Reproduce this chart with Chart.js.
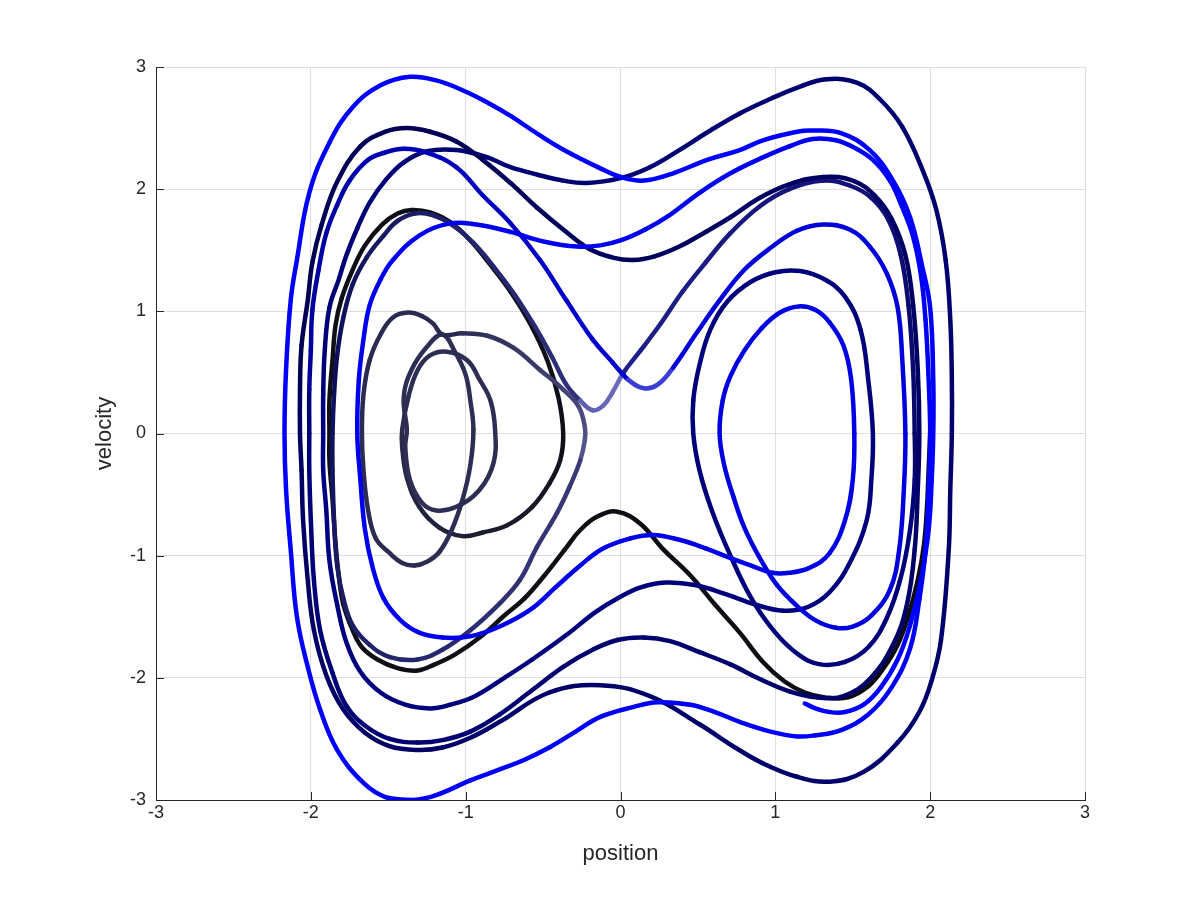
<!DOCTYPE html>
<html><head><meta charset="utf-8">
<script src="https://cdn.jsdelivr.net/npm/chart.js@4.4.1/dist/chart.umd.min.js"></script>
<style>html,body{margin:0;padding:0;background:#fff}#c{display:block}</style>
</head><body>
<canvas id="c" width="1200" height="900"></canvas>
<script>
// ---- tick values ----
const tickValues = [-3, -2, -1, 0, 1, 2, 3];

// ---- trajectory pieces (position, velocity), in time order ----
const swingStartPos = [2.00,1.99,1.98,1.96,1.92,1.86,1.79,1.70,1.60,1.47,1.32,1.19,1.06,0.92,0.77,0.61,0.45,0.27,0.13,-0.02,-0.15,-0.26,-0.36,-0.49,-0.62,-0.75,-0.91,-1.07,-1.20,-1.31,-1.44,-1.57,-1.67,-1.73,-1.79,-1.82,-1.84,-1.86,-1.88,-1.88,-1.88,-1.86,-1.84,-1.80,-1.73,-1.65,-1.54,-1.44,-1.35,-1.23,-1.10,-0.97,-0.84,-0.71,-0.58,-0.47,-0.40,-0.37];
const swingStartVel = [0.00,-0.30,-0.59,-0.91,-1.20,-1.49,-1.73,-1.92,-2.07,-2.16,-2.16,-2.12,-2.03,-1.87,-1.63,-1.40,-1.16,-0.94,-0.74,-0.64,-0.68,-0.79,-0.95,-1.16,-1.35,-1.49,-1.67,-1.81,-1.89,-1.94,-1.92,-1.85,-1.75,-1.61,-1.40,-1.16,-0.91,-0.54,-0.22,0.00,0.27,0.60,0.89,1.11,1.34,1.54,1.71,1.80,1.83,1.81,1.73,1.58,1.38,1.16,0.89,0.59,0.29,0.00];

const capturePos = [-0.39,-0.46,-0.57,-0.73,-0.89,-1.02,-1.17,-1.30,-1.38,-1.41,-1.41];
const captureVel = [-0.22,-0.41,-0.60,-0.75,-0.81,-0.84,-0.77,-0.60,-0.36,-0.11,0.03];

const smallLoopPos = [-1.37,-1.31,-1.23,-1.12,-0.99,-0.91,-0.84,-0.81,-0.82,-0.91,-1.06,-1.19,-1.28,-1.36,-1.39,-1.38,-1.40,-1.35,-1.25,-1.15];
const smallLoopVel = [0.30,0.52,0.64,0.67,0.60,0.44,0.27,0.03,-0.24,-0.46,-0.60,-0.63,-0.57,-0.38,-0.11,0.03,0.30,0.52,0.71,0.81];

const wideLoopPos = [-1.07,-1.00,-0.97,-0.95,-0.97,-1.02,-1.09,-1.17,-1.25,-1.33,-1.41,-1.49,-1.58,-1.63,-1.66,-1.67,-1.66,-1.62,-1.55,-1.47,-1.37,-1.28,-1.21,-1.15];
const wideLoopVel = [0.67,0.48,0.27,0.03,-0.26,-0.54,-0.79,-0.97,-1.05,-1.08,-1.06,-0.98,-0.86,-0.63,-0.30,0.00,0.32,0.60,0.81,0.95,0.99,0.96,0.90,0.81];

const shallowLoopPos = [-1.02,-0.86,-0.69,-0.52,-0.37,-0.27,-0.23,-0.23];
const shallowLoopVel = [0.82,0.80,0.70,0.52,0.36,0.22,0.05,-0.05];

const escapePos = [-0.26,-0.33,-0.41,-0.54,-0.65,-0.78,-0.97,-1.15,-1.31,-1.49,-1.62,-1.73,-1.79,-1.83,-1.85,-1.86,-1.86];
const escapeVel = [-0.22,-0.44,-0.65,-0.93,-1.20,-1.39,-1.61,-1.77,-1.85,-1.83,-1.73,-1.57,-1.35,-1.08,-0.71,-0.30,0.00];

const crossRisePos = [-1.85,-1.83,-1.79,-1.73,-1.64,-1.53,-1.44,-1.33,-1.22,-1.09,-0.95,-0.81,-0.68,-0.55,-0.44,-0.35];
const crossRiseVel = [0.32,0.64,0.95,1.22,1.44,1.62,1.74,1.80,1.79,1.71,1.56,1.35,1.13,0.87,0.62,0.40];

const crossDipPos = [-0.26,-0.18,-0.11,-0.05];
const crossDipVel = [0.27,0.19,0.23,0.34];

const crossExitPos = [0.02,0.13,0.26,0.40,0.55,0.71,0.90,1.09,1.31,1.48,1.62,1.73,1.81,1.86,1.89,1.90];
const crossExitVel = [0.50,0.68,0.90,1.16,1.40,1.64,1.86,2.00,2.07,2.03,1.93,1.75,1.46,1.05,0.52,0.00];

const rightWellPos = [1.90,1.87,1.81,1.72,1.60,1.45,1.29,1.15,1.00,0.85,0.71,0.59,0.51,0.47,0.47,0.51,0.58,0.69,0.84,1.00,1.16,1.32,1.45,1.55,1.60,1.63,
  1.62,1.59,1.48,1.35,1.21,1.05,0.87,0.67,0.48,0.29,0.13,-0.02,-0.16,-0.35,-0.57,-0.75,-0.94,-1.10,-1.23,-1.39,-1.55,-1.68,-1.77,-1.83,-1.88,-1.90,-1.92,-1.92];
const rightWellVel = [-0.38,-0.79,-1.18,-1.51,-1.75,-1.87,-1.89,-1.81,-1.63,-1.36,-1.00,-0.63,-0.30,0.00,0.27,0.56,0.85,1.08,1.24,1.32,1.33,1.26,1.12,0.85,0.44,0.00,
  -0.38,-0.71,-1.06,-1.30,-1.42,-1.45,-1.40,-1.31,-1.24,-1.22,-1.26,-1.35,-1.46,-1.65,-1.85,-2.00,-2.15,-2.22,-2.25,-2.22,-2.12,-1.95,-1.71,-1.40,-1.04,-0.63,-0.30,0.00];

const outerNavyPos = [-1.92,-1.91,-1.88,-1.82,-1.77,-1.70,-1.62,-1.52,-1.40,-1.25,-1.06,-0.86,-0.71,-0.54,-0.37,-0.22,0.00,0.19,0.38,0.58,0.77,0.97,1.16,1.33,1.53,1.68,1.82,1.95,2.04,2.10,2.13,2.14,2.14,
  2.13,2.12,2.07,2.01,1.93,1.79,1.57,1.35,1.14,0.92,0.74,0.51,0.19,-0.13,-0.46,-0.78,
  -0.97,-1.15,-1.31,-1.49,-1.65,-1.79,-1.90,-1.98,-2.02,-2.05,-2.06,-2.07];
const outerNavyVel = [0.32,0.68,1.03,1.26,1.46,1.68,1.89,2.07,2.22,2.31,2.32,2.26,2.18,2.12,2.07,2.05,2.09,2.18,2.32,2.48,2.62,2.74,2.84,2.90,2.87,2.73,2.51,2.16,1.83,1.42,0.93,0.44,0.00,
  -0.46,-0.95,-1.69,-2.02,-2.28,-2.53,-2.77,-2.85,-2.81,-2.70,-2.57,-2.38,-2.15,-2.06,-2.12,-2.36,
  -2.49,-2.57,-2.59,-2.56,-2.45,-2.26,-1.98,-1.61,-1.20,-0.71,-0.30,0.00];

const upperNavyPos = [-2.07,-2.06,-2.02,-1.99,-1.93,-1.83,-1.68,-1.52,-1.38,-1.23,-1.06,-0.89,-0.71,-0.54,-0.37,-0.20,-0.05,0.08,0.22,0.38,0.55,0.71,0.90,1.09,1.31,1.50,1.64,1.75,1.84,1.89,1.92,1.93,
  1.92,1.90,1.85,1.76,1.61,1.44,1.27,1.09,0.90,0.71,0.51,0.32,0.15,-0.02,-0.18,-0.37,-0.57,-0.78,-0.97,-1.15,-1.31,-1.49,-1.64,-1.77,-1.86,-1.94,-1.98,-2.00,-2.01,-2.01];
const upperNavyVel = [0.36,0.72,1.09,1.40,1.71,2.06,2.35,2.47,2.50,2.47,2.39,2.24,2.05,1.85,1.67,1.51,1.44,1.42,1.45,1.53,1.65,1.77,1.93,2.04,2.10,2.07,1.95,1.76,1.46,1.05,0.52,0.00,
  -0.46,-0.95,-1.40,-1.73,-2.01,-2.15,-2.16,-2.11,-2.01,-1.89,-1.79,-1.70,-1.67,-1.69,-1.77,-1.91,-2.10,-2.30,-2.44,-2.51,-2.53,-2.50,-2.40,-2.23,-1.96,-1.61,-1.20,-0.71,-0.30,0.00];

const blueRisePos = [-2.01,-2.00,-1.99,-1.95,-1.90,-1.83,-1.75,-1.63,-1.52,-1.40,-1.25,-1.06,-0.89,-0.71,-0.52,-0.35,-0.18,-0.05];
const blueRiseVel = [0.36,0.68,1.01,1.34,1.64,1.87,2.07,2.24,2.30,2.33,2.30,2.18,1.95,1.72,1.42,1.09,0.77,0.58];

const blueDipPos = [0.05,0.15,0.24];
const blueDipVel = [0.44,0.37,0.40];

const blueWellPos = [0.34,0.49,0.64,0.80,0.97,1.14,1.31,1.48,1.61,1.72,1.79,1.82,1.84,
  1.83,1.80,1.74,1.62,1.50,1.39,1.26,1.13,1.01,0.90,0.80,0.73,0.67,0.64,
  0.66,0.71,0.80,0.91,1.03,1.15,1.26,1.35,1.44,1.49,1.51,1.50,1.45,1.35,1.22,1.09,0.98,0.84,0.69,0.55,0.38,0.21,0.06,-0.11,-0.26,-0.42,-0.58,-0.78,-0.97,-1.15,-1.30,-1.42,-1.53,-1.60,-1.65,-1.68,-1.70];
const blueWellVel = [0.54,0.82,1.09,1.34,1.52,1.66,1.71,1.67,1.53,1.31,1.03,0.60,0.00,
  -0.46,-0.95,-1.28,-1.49,-1.58,-1.59,-1.53,-1.40,-1.24,-1.02,-0.77,-0.52,-0.26,0.00,
  0.27,0.47,0.68,0.86,0.99,1.04,1.01,0.91,0.72,0.44,0.00,-0.38,-0.71,-0.98,-1.10,-1.14,-1.14,-1.08,-1.01,-0.94,-0.87,-0.83,-0.86,-0.94,-1.08,-1.26,-1.44,-1.58,-1.66,-1.67,-1.63,-1.53,-1.35,-1.10,-0.79,-0.38,0.00];

const lastSwingPos = [-1.69,-1.66,-1.62,-1.55,-1.47,-1.30,-1.10,-0.93,-0.71,-0.49,-0.28,-0.13,0.00,0.16,0.32,0.51,0.71,0.92,1.09,1.24,1.39,1.51,1.63,1.74,1.82,1.89,1.94,1.97,1.99,2.00,
  1.99,1.97,1.93,1.87,1.75,1.60,1.42,1.26,1.14,0.97,0.77,0.61,0.45,0.24,0.08,-0.13,-0.29,-0.46,-0.62,-0.78];
const lastSwingVel = [0.44,0.77,1.05,1.26,1.42,1.62,1.72,1.71,1.65,1.57,1.53,1.54,1.58,1.67,1.79,1.97,2.13,2.26,2.35,2.41,2.40,2.34,2.24,2.07,1.85,1.61,1.30,0.93,0.44,0.00,
  -0.46,-0.95,-1.36,-1.76,-2.08,-2.30,-2.43,-2.47,-2.48,-2.44,-2.36,-2.28,-2.22,-2.20,-2.24,-2.32,-2.44,-2.57,-2.67,-2.75];

const outerBluePos = [-0.97,-1.19,-1.34,-1.51,-1.66,-1.83,-1.94,-2.02,-2.09,-2.13,-2.16,-2.17,
  -2.16,-2.13,-2.09,-2.01,-1.88,-1.73,-1.55,-1.36,-1.19,-1.02,-0.86,-0.71,-0.52,-0.35,-0.13,0.00,0.15,0.34,0.56,0.77,0.92,1.14,1.24,1.42,1.61,1.76,1.87,1.95,2.00,2.02,2.02,
  2.01,1.99,1.94,1.87,1.79,1.68,1.57,1.45,1.35,1.26,1.19];
const outerBlueVel = [-2.84,-2.96,-3.00,-2.98,-2.86,-2.59,-2.26,-1.91,-1.50,-0.95,-0.46,0.00,
  0.52,1.09,1.42,1.97,2.38,2.67,2.85,2.92,2.89,2.81,2.71,2.60,2.44,2.31,2.17,2.10,2.07,2.13,2.24,2.32,2.40,2.47,2.48,2.46,2.32,2.07,1.77,1.36,1.03,0.44,0.00,
  -0.38,-0.79,-1.20,-1.57,-1.85,-2.08,-2.22,-2.28,-2.28,-2.25,-2.21];

const route = [
  [swingStartPos, swingStartVel], [capturePos, captureVel], [smallLoopPos, smallLoopVel],
  [wideLoopPos, wideLoopVel], [shallowLoopPos, shallowLoopVel], [escapePos, escapeVel],
  [crossRisePos, crossRiseVel], [crossDipPos, crossDipVel], [crossExitPos, crossExitVel],
  [rightWellPos, rightWellVel], [outerNavyPos, outerNavyVel], [upperNavyPos, upperNavyVel],
  [blueRisePos, blueRiseVel], [blueDipPos, blueDipVel], [blueWellPos, blueWellVel],
  [lastSwingPos, lastSwingVel], [outerBluePos, outerBlueVel]
];

// ---- styles: colour at the start and end of each piece ----
const pieceTones = [
  ['#0c0c12', '#101018'], ['#141420', '#2c2c50'], ['#2e2e55', '#2e2e55'],
  ['#2e2e55', '#2a2a50'], ['#2e2e58', '#55558c'], ['#3a3a78', '#101060'],
  ['#0c0c58', '#30307a'], ['#6060b0', '#6a6ab8'], ['#20208a', '#06066a'],
  ['#00007a', '#000080'], ['#000078', '#000064'], ['#000052', '#00007a'],
  ['#00009a', '#0000d0'], ['#3c3cd8', '#3c3cd8'], ['#0000d8', '#0000ec'],
  ['#0000ee', '#0000f8'], ['#0000fa', '#0000ff']
];

function hexRgb(h) { return [1, 3, 5].map(i => parseInt(h.substr(i, 2), 16)); }
const points = [], colors = [];
route.forEach(([xs, ys], i) => {
  if (xs.length !== ys.length) console.error('length mismatch in piece', i, xs.length, ys.length);
  const a = hexRgb(pieceTones[i][0]), b = hexRgb(pieceTones[i][1]);
  const n = Math.min(xs.length, ys.length);
  for (let k = 0; k < n; k++) {
    const t = n > 1 ? k / (n - 1) : 0;
    points.push({x: xs[k], y: ys[k]});
    colors.push('rgb(' + a.map((v, j) => Math.round(v + (b[j] - v) * t)).join(',') + ')');
  }
});

const axisColor = '#262626';
const inwardTicks = {
  id: 'inwardTicks',
  afterDraw(chart) {
    const {ctx, chartArea: a, scales: {x, y}} = chart;
    ctx.save();
    ctx.strokeStyle = axisColor; ctx.lineWidth = 1;
    ctx.beginPath();
    x.ticks.forEach(t => { const p = Math.round(x.getPixelForValue(t.value)) + 0.5; ctx.moveTo(p, a.bottom); ctx.lineTo(p, a.bottom - 8); });
    y.ticks.forEach(t => { const p = Math.round(y.getPixelForValue(t.value)) + 0.5; ctx.moveTo(a.left, p); ctx.lineTo(a.left + 8, p); });
    ctx.stroke();
    ctx.restore();
  }
};

const font = 'Liberation Sans';
new Chart(document.getElementById('c'), {
  type: 'scatter',
  data: { datasets: [{
    data: points, showLine: true, pointRadius: 0, borderWidth: 4.5, tension: 0.4,
    borderCapStyle: 'round', borderJoinStyle: 'round', borderColor: '#0000ff',
    segment: { borderColor: c => colors[c.p0DataIndex] }
  }]},
  options: {
    responsive: false, animation: false, devicePixelRatio: 1,
    layout: { padding: { top: 67, right: 115, left: 0, bottom: 0 } },
    plugins: { legend: { display: false }, tooltip: { enabled: false } },
    scales: {
      x: {
        type: 'linear', min: -3, max: 3,
        afterBuildTicks: s => { s.ticks = tickValues.map(v => ({value: v})); },
        ticks: { padding: 2, color: axisColor, font: { family: font, size: 18 } },
        grid: { color: '#dedede', drawTicks: false },
        border: { color: axisColor },
        title: { display: true, text: 'position', color: axisColor, font: { family: font, size: 22 }, padding: { top: 0, bottom: 33 } },
        afterFit: s => { s.height = 100; }
      },
      y: {
        type: 'linear', min: -3, max: 3,
        afterBuildTicks: s => { s.ticks = tickValues.map(v => ({value: v})); },
        ticks: { padding: 10, color: axisColor, font: { family: font, size: 18 } },
        grid: { color: '#dedede', drawTicks: false },
        border: { color: axisColor },
        title: { display: true, text: 'velocity', color: axisColor, font: { family: font, size: 22 }, padding: { top: 92, bottom: 0 } },
        afterFit: s => { s.width = 156; }
      }
    }
  },
  plugins: [inwardTicks]
});
</script>
</body></html>
